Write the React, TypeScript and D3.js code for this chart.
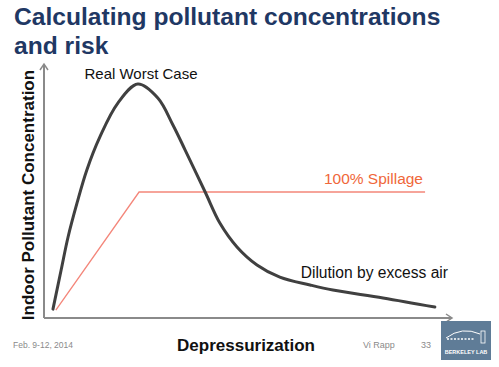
import React from "react";
import * as d3 from "d3";

// depressurization (0-100) vs concentration (0-100)
const worstX = [2.2, 4.2, 5.9, 8.1, 10.5, 13.7, 18.1, 23.0, 27.9, 31.6, 34.6, 39.5, 43.1, 47.3, 52.2, 57.8, 65.2, 70.8, 83.1, 95.8];
const worstY = [3.5, 18.9, 31.9, 45.3, 58.3, 71.3, 84.6, 92.1, 86.6, 76.0, 66.1, 49.6, 37.4, 28.0, 20.9, 16.1, 13.0, 11.0, 7.9, 4.3];

const spillX = [2.9, 23.3, 93.4];
const spillY = [3.1, 49.6, 49.6];

const titleLines = ["Calculating pollutant concentrations", "and risk"];

const W = 499;
const H = 367;

function App() {
  const x = d3.scaleLinear().domain([0, 100]).range([44, 452]);
  const y = d3.scaleLinear().domain([0, 100]).range([318, 64]);

  const worst = d3
    .line<number>()
    .x((d, i) => x(worstX[i]))
    .y(d => y(d))
    .curve(d3.curveCatmullRom.alpha(0.5));

  const spill = d3
    .line<number>()
    .x((d, i) => x(spillX[i]))
    .y(d => y(d));

  const x0 = x(0);
  const y0 = y(0);
  const axisColor = "#8a8a8a";

  return (
    <svg width={W} height={H} style={{ position: "absolute", left: 0, top: 0, background: "#fff" }}>
      <g fontFamily="Liberation Sans, Arial, sans-serif">
        {titleLines.map((t, i) => (
          <text key={t} x={14} y={25 + i * 29} fontSize={24.6} fontWeight="bold" fill="#1f3864">
            {t}
          </text>
        ))}

        {/* axes */}
        <line x1={x0} y1={y0} x2={x0} y2={y(100)} stroke={axisColor} strokeWidth={2} />
        <path
          d={`M${x0 - 4},${y(100) + 6}L${x0},${y(100)}L${x0 + 4},${y(100) + 6}`}
          fill="none"
          stroke={axisColor}
          strokeWidth={1.5}
        />
        <line x1={x0} y1={y0} x2={x(100)} y2={y0} stroke={axisColor} strokeWidth={2} />
        <path
          d={`M${x(100) - 6},${y0 - 4}L${x(100)},${y0}L${x(100) - 6},${y0 + 4}`}
          fill="none"
          stroke={axisColor}
          strokeWidth={1.5}
        />

        <path d={spill(spillY) || ""} fill="none" stroke="#f4867a" strokeWidth={1.3} />
        <path d={worst(worstY) || ""} fill="none" stroke="#404040" strokeWidth={3} strokeLinecap="round" />

        <text x={141} y={79} textAnchor="middle" fontSize={15} fill="#111">
          Real Worst Case
        </text>
        <text x={423} y={184} textAnchor="end" fontSize={15.5} fill="#f0673a">
          100% Spillage
        </text>
        <text x={448} y={278} textAnchor="end" fontSize={15.6} fill="#111">
          Dilution by excess air
        </text>

        <text
          transform={`translate(34,195) rotate(-90)`}
          textAnchor="middle"
          fontSize={17}
          fontWeight="bold"
          fill="#111"
        >
          Indoor Pollutant Concentration
        </text>
        <text x={246} y={351} textAnchor="middle" fontSize={17} fontWeight="bold" fill="#111">
          Depressurization
        </text>

        <text x={13} y={348} fontSize={8.5} fill="#8a8a8a">
          Feb. 9-12, 2014
        </text>
        <text x={363} y={348} fontSize={9} fill="#8a8a8a">
          Vi Rapp
        </text>
        <text x={426} y={348} textAnchor="middle" fontSize={9} fill="#8a8a8a">
          33
        </text>

        {/* lab logo */}
        <rect x={441} y={321} width={50} height={39} fill="#5f7c97" />
        <path d="M446,338 Q462,326 480,334" fill="none" stroke="#fff" strokeWidth={1} />
        <line x1={447} y1={339} x2={475} y2={339} stroke="#fff" strokeWidth={1.5} strokeDasharray="2,1.5" />
        <rect x={481} y={331} width={4} height={12} fill="none" stroke="#fff" strokeWidth={0.8} />
        <text x={466} y={354} textAnchor="middle" fontSize={5.5} fontWeight="bold" fill="#fff">
          BERKELEY LAB
        </text>
      </g>
    </svg>
  );
}

export default App;
